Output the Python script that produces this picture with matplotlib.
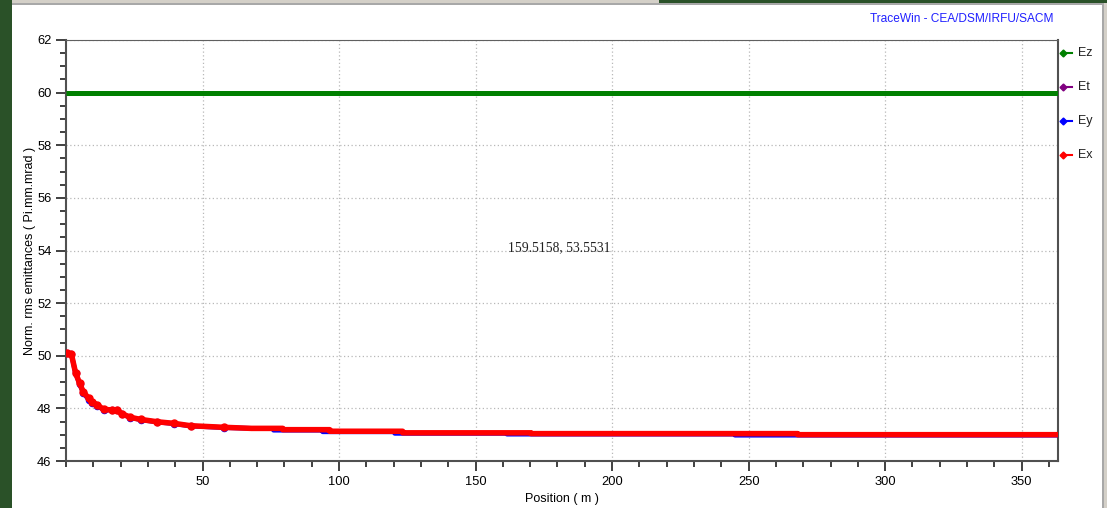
import matplotlib
matplotlib.use("Agg")
import matplotlib.pyplot as plt
from matplotlib.patches import Rectangle
from matplotlib.lines import Line2D
from matplotlib.ticker import MultipleLocator

plt.rcParams['font.family'] = ['Liberation Sans', 'DejaVu Sans']

# ---- data ----
ez_x = [0.0, 363.3]
ez_y = [60.0, 60.0]

ex_x = [0.3, 2.0, 3.5, 5.0, 6.3, 8.3, 9.6, 11.4, 13.8, 16.9, 18.5, 20.6, 23.6,
        27.3, 33.4, 39.5, 45.6, 57.8, 67.9, 79.4, 79.4, 96.6, 96.6, 123.3,
        123.3, 170.3, 170.3, 268.0, 268.0, 363.3]
ex_y = [50.09, 50.05, 49.35, 48.95, 48.63, 48.38, 48.25, 48.13, 47.96, 47.94,
        47.93, 47.79, 47.66, 47.58, 47.49, 47.43, 47.34, 47.28, 47.24, 47.24,
        47.19, 47.19, 47.13, 47.13, 47.07, 47.07, 47.04, 47.04, 47.00, 47.00]

ey_x = [0.3, 2.0, 3.5, 5.0, 6.3, 8.3, 9.6, 11.4, 13.8, 16.9, 18.5, 20.6, 23.6,
        27.3, 33.4, 39.5, 45.6, 57.8, 67.9, 76.0, 76.0, 94.0, 94.0, 120.4,
        120.4, 161.5, 161.5, 245.0, 245.0, 363.3]
ey_y = [50.12, 50.05, 49.33, 48.93, 48.60, 48.33, 48.20, 48.10, 47.95, 47.93,
        47.92, 47.78, 47.65, 47.57, 47.48, 47.42, 47.33, 47.27, 47.24, 47.24,
        47.17, 47.17, 47.11, 47.11, 47.05, 47.05, 47.02, 47.02, 46.98, 46.98]

legend_labels = ['Ez', 'Et', 'Ey', 'Ex']
legend_colors = ['#008000', '#800080', '#0000ff', '#ff0000']

annot_text = '159.5158, 53.5531'
title_text = 'TraceWin - CEA/DSM/IRFU/SACM'

W, H = 1107, 508
fig = plt.figure(figsize=(W / 100, H / 100), dpi=100)
fig.patch.set_facecolor('white')

def px_rect(x0, y0, x1, y1, color):
    fig.patches.append(Rectangle((x0 / W, 1 - y1 / H), (x1 - x0) / W, (y1 - y0) / H,
                                 transform=fig.transFigure, facecolor=color,
                                 edgecolor='none', zorder=0))

green_frame = '#2a5128'
px_rect(0, 0, 12, H, green_frame)
px_rect(12, 0, 659, 4, '#d4d0c8')
px_rect(659, 0, W, 3, green_frame)
px_rect(12, 3, 1104, 5, '#a8a8a8')
px_rect(1102, 3, 1104, H, '#a8a8a8')
px_rect(1104, 3, W, H, '#d4d0c8')

ax = fig.add_axes([66 / W, 1 - 461 / H, (1058 - 66) / W, (461 - 40) / H])
ax.set_xlim(0, 363.3)
ax.set_ylim(46, 62)

ax.xaxis.set_major_locator(MultipleLocator(50))
ax.xaxis.set_minor_locator(MultipleLocator(10))
ax.yaxis.set_major_locator(MultipleLocator(2))
ax.yaxis.set_minor_locator(MultipleLocator(0.5))
ax.set_xticks([50, 100, 150, 200, 250, 300, 350])

ax.grid(True, which='major', color='#b8b8b8', linestyle=(0, (1, 2)), linewidth=0.9)
ax.set_axisbelow(True)

for side in ['left', 'bottom', 'right']:
    ax.spines[side].set_color('#505050')
    ax.spines[side].set_linewidth(1.5)
ax.spines['top'].set_color('#606060')
ax.spines['top'].set_linewidth(0.8)

ax.tick_params(axis='both', which='major', direction='out', length=7.5, width=1.4,
               color='#404040', labelsize=9.3, pad=3)
ax.tick_params(axis='both', which='minor', direction='out', length=4.5, width=1.4,
               color='#404040')
ax.tick_params(axis='x', which='both', top=False)
ax.tick_params(axis='y', which='both', right=False)

# series
ax.plot(ez_x, ez_y, color='#008000', lw=3.6, solid_capstyle='butt', zorder=3)
ax.plot(ey_x, ey_y, color='#0000ff', lw=3.4, solid_capstyle='butt', zorder=3,
        marker='o', ms=4.4, markevery=list(range(0, 18)))
ax.plot(ex_x, ex_y, color='#ff0000', lw=4.0, solid_capstyle='butt', zorder=4,
        marker='o', ms=5.0, markevery=list(range(0, 18)))

ax.text(162, 54.09, annot_text, fontsize=9.8, family=['Liberation Serif', 'DejaVu Serif'],
        ha='left', va='center', color='#202020')

ax.set_xlabel('Position ( m )', fontsize=9, labelpad=4)
ax.set_ylabel('Norm. rms emittances ( Pi.mm.mrad )', fontsize=9, labelpad=1)

fig.text(1053 / W, 1 - 19 / H, title_text, color='#2020ff', fontsize=8.6,
         ha='right', va='center')

# legend at right
leg_y = [53, 87, 121, 155]
for lab, col, yy in zip(legend_labels, legend_colors, leg_y):
    fy = 1 - yy / H
    fig.lines.append(Line2D([1063 / W, 1072 / W], [fy, fy], transform=fig.transFigure,
                            color=col, lw=1.5, marker='D', ms=3.5,
                            markevery=[0], zorder=5))
    fig.text(1078 / W, fy, lab, fontsize=9, ha='left', va='center', color='#202020')

fig.savefig('out.png', dpi=100, facecolor='white')
